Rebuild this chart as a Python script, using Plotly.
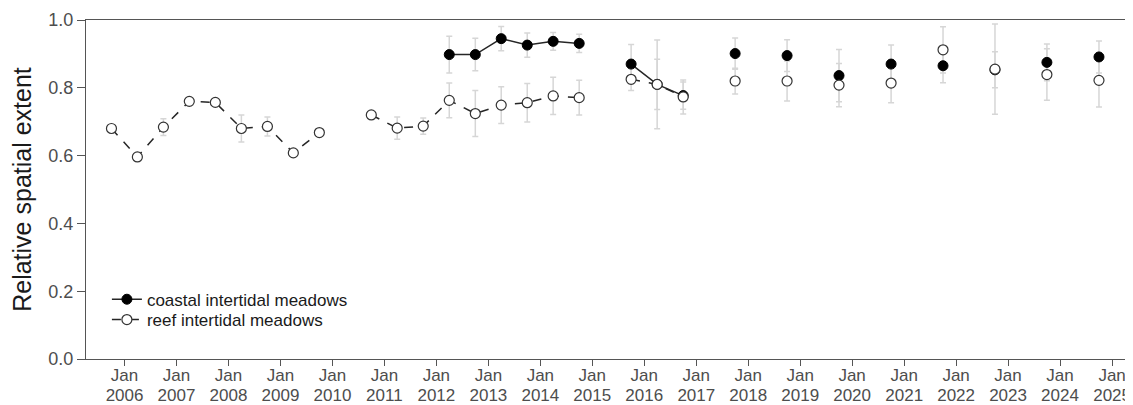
import plotly.graph_objects as go

# Sampling dates: late dry (Oct) and late wet (Apr) seasons
dates = [
    "2005-10-01", "2006-04-01", "2006-10-01", "2007-04-01", "2007-10-01",
    "2008-04-01", "2008-10-01", "2009-04-01", "2009-10-01", "2010-04-01",
    "2010-10-01", "2011-04-01", "2011-10-01", "2012-04-01", "2012-10-01",
    "2013-04-01", "2013-10-01", "2014-04-01", "2014-10-01", "2015-04-01",
    "2015-10-01", "2016-04-01", "2016-10-01", "2017-04-01", "2017-10-01",
    "2018-04-01", "2018-10-01", "2019-04-01", "2019-10-01", "2020-04-01",
    "2020-10-01", "2021-04-01", "2021-10-01", "2022-04-01", "2022-10-01",
    "2023-04-01", "2023-10-01", "2024-04-01", "2024-10-01",
]

coastal = [
    None, None, None, None, None, None, None, None, None, None,
    None, None, None, 0.898, 0.898, 0.945, 0.926, 0.937, 0.931, None,
    0.870, 0.810, 0.777, None, 0.901, None, 0.895, None, 0.836, None,
    0.870, None, 0.865, None, 0.853, None, 0.875, None, 0.891,
]
coastal_err = [
    None, None, None, None, None, None, None, None, None, None,
    None, None, None, 0.054, 0.048, 0.036, 0.036, 0.026, 0.027, None,
    0.058, 0.074, 0.040, None, 0.046, None, 0.047, None, 0.077, None,
    0.056, None, 0.050, None, 0.053, None, 0.054, None, 0.047,
]

reef = [
    0.680, 0.596, 0.684, 0.760, 0.757, 0.680, 0.686, 0.608, 0.668, None,
    0.720, 0.681, 0.687, 0.763, 0.724, 0.749, 0.756, 0.776, 0.771, None,
    0.825, 0.810, 0.773, None, 0.820, None, 0.820, None, 0.808, None,
    0.814, None, 0.912, None, 0.855, None, 0.839, None, 0.822,
]
reef_err = [
    0.004, 0.012, 0.025, 0.008, 0.004, 0.040, 0.028, 0.005, 0.004, None,
    0.004, 0.033, 0.024, 0.051, 0.068, 0.054, 0.057, 0.055, 0.051, None,
    0.033, 0.131, 0.050, None, 0.038, None, 0.059, None, 0.064, None,
    0.058, None, 0.068, None, 0.133, None, 0.076, None, 0.079,
]

tick_years = list(range(2006, 2026))
tick_dates = [f"{y}-01-01" for y in tick_years]
tick_month = ["Jan" for _ in tick_years]
tick_year_text = [str(y) for y in tick_years]

FONT = "Liberation Sans, Arial, sans-serif"
ERRC = "#d6d6d6"
XRANGE = ["2005-04-05", "2025-05-14"]

fig = go.Figure()

# Error bars first (on the lower axes) so markers sit on top
fig.add_trace(go.Scatter(
    x=dates, y=coastal, mode="markers", xaxis="x",
    marker=dict(size=1, color="rgba(0,0,0,0)"),
    error_y=dict(type="data", array=coastal_err, color=ERRC, thickness=1.5, width=3),
    showlegend=False, hoverinfo="skip",
))
fig.add_trace(go.Scatter(
    x=dates, y=reef, mode="markers", xaxis="x2",
    marker=dict(size=1, color="rgba(0,0,0,0)"),
    error_y=dict(type="data", array=reef_err, color=ERRC, thickness=1.5, width=3),
    showlegend=False, hoverinfo="skip",
))

fig.add_trace(go.Scatter(
    x=dates, y=coastal, mode="lines+markers", name="coastal intertidal meadows",
    xaxis="x3",
    line=dict(color="#262626", width=1.5),
    marker=dict(size=10, color="black", line=dict(color="black", width=1)),
    connectgaps=False, legend="legend",
))
fig.add_trace(go.Scatter(
    x=dates, y=reef, mode="lines+markers", name="reef intertidal meadows",
    xaxis="x3",
    line=dict(color="#262626", width=1.5, dash="dash"),
    marker=dict(size=10, color="white", line=dict(color="#333333", width=1.2)),
    connectgaps=False, legend="legend2",
))

leg_common = dict(
    x=0.02, xanchor="left", yanchor="middle",
    bgcolor="rgba(0,0,0,0)", font=dict(size=17, color="#1a1a1a"),
    tracegroupgap=0, itemwidth=30,
)

axis_common = dict(
    range=XRANGE, tickvals=tick_dates, showgrid=False, zeroline=False,
    automargin=False, ticks="outside",
)
overlay = dict(overlaying="x", matches="x", anchor="y", side="bottom", showline=False)

fig.update_layout(
    width=1125, height=397,
    margin=dict(l=78, r=2, t=12, b=46, autoexpand=False),
    paper_bgcolor="white", plot_bgcolor="white",
    font=dict(family=FONT, size=18, color="#4d4d4d"),
    legend=dict(y=0.175, **leg_common),
    legend2=dict(y=0.115, **leg_common),
    # base axis: frame line + "Jan" labels
    xaxis=dict(
        ticktext=tick_month, ticklen=1, tickcolor="rgba(0,0,0,0)",
        tickfont=dict(size=17, color="#4d4d4d"),
        showline=True, linecolor="#555555", linewidth=1, mirror=True,
        **axis_common,
    ),
    # visible tick marks
    xaxis2=dict(
        showticklabels=False, ticklen=6, tickcolor="#555555",
        **axis_common, **overlay,
    ),
    # year labels
    xaxis3=dict(
        ticktext=tick_year_text, ticklen=21, tickcolor="rgba(0,0,0,0)",
        tickfont=dict(size=17, color="#4d4d4d"),
        **axis_common, **overlay,
    ),
    yaxis=dict(
        range=[0, 1], tickvals=[0, 0.2, 0.4, 0.6, 0.8, 1.0],
        tickformat=".1f", automargin=False,
        showgrid=False, zeroline=False,
        showline=True, linecolor="#555555", linewidth=1, mirror=True,
        ticks="outside", ticklen=8, tickcolor="#555555",
        tickfont=dict(size=18, color="#4d4d4d"),
        title=dict(text="Relative spatial extent", font=dict(size=25, color="#1a1a1a"), standoff=10),
    ),
)

fig.write_html("out.html")
